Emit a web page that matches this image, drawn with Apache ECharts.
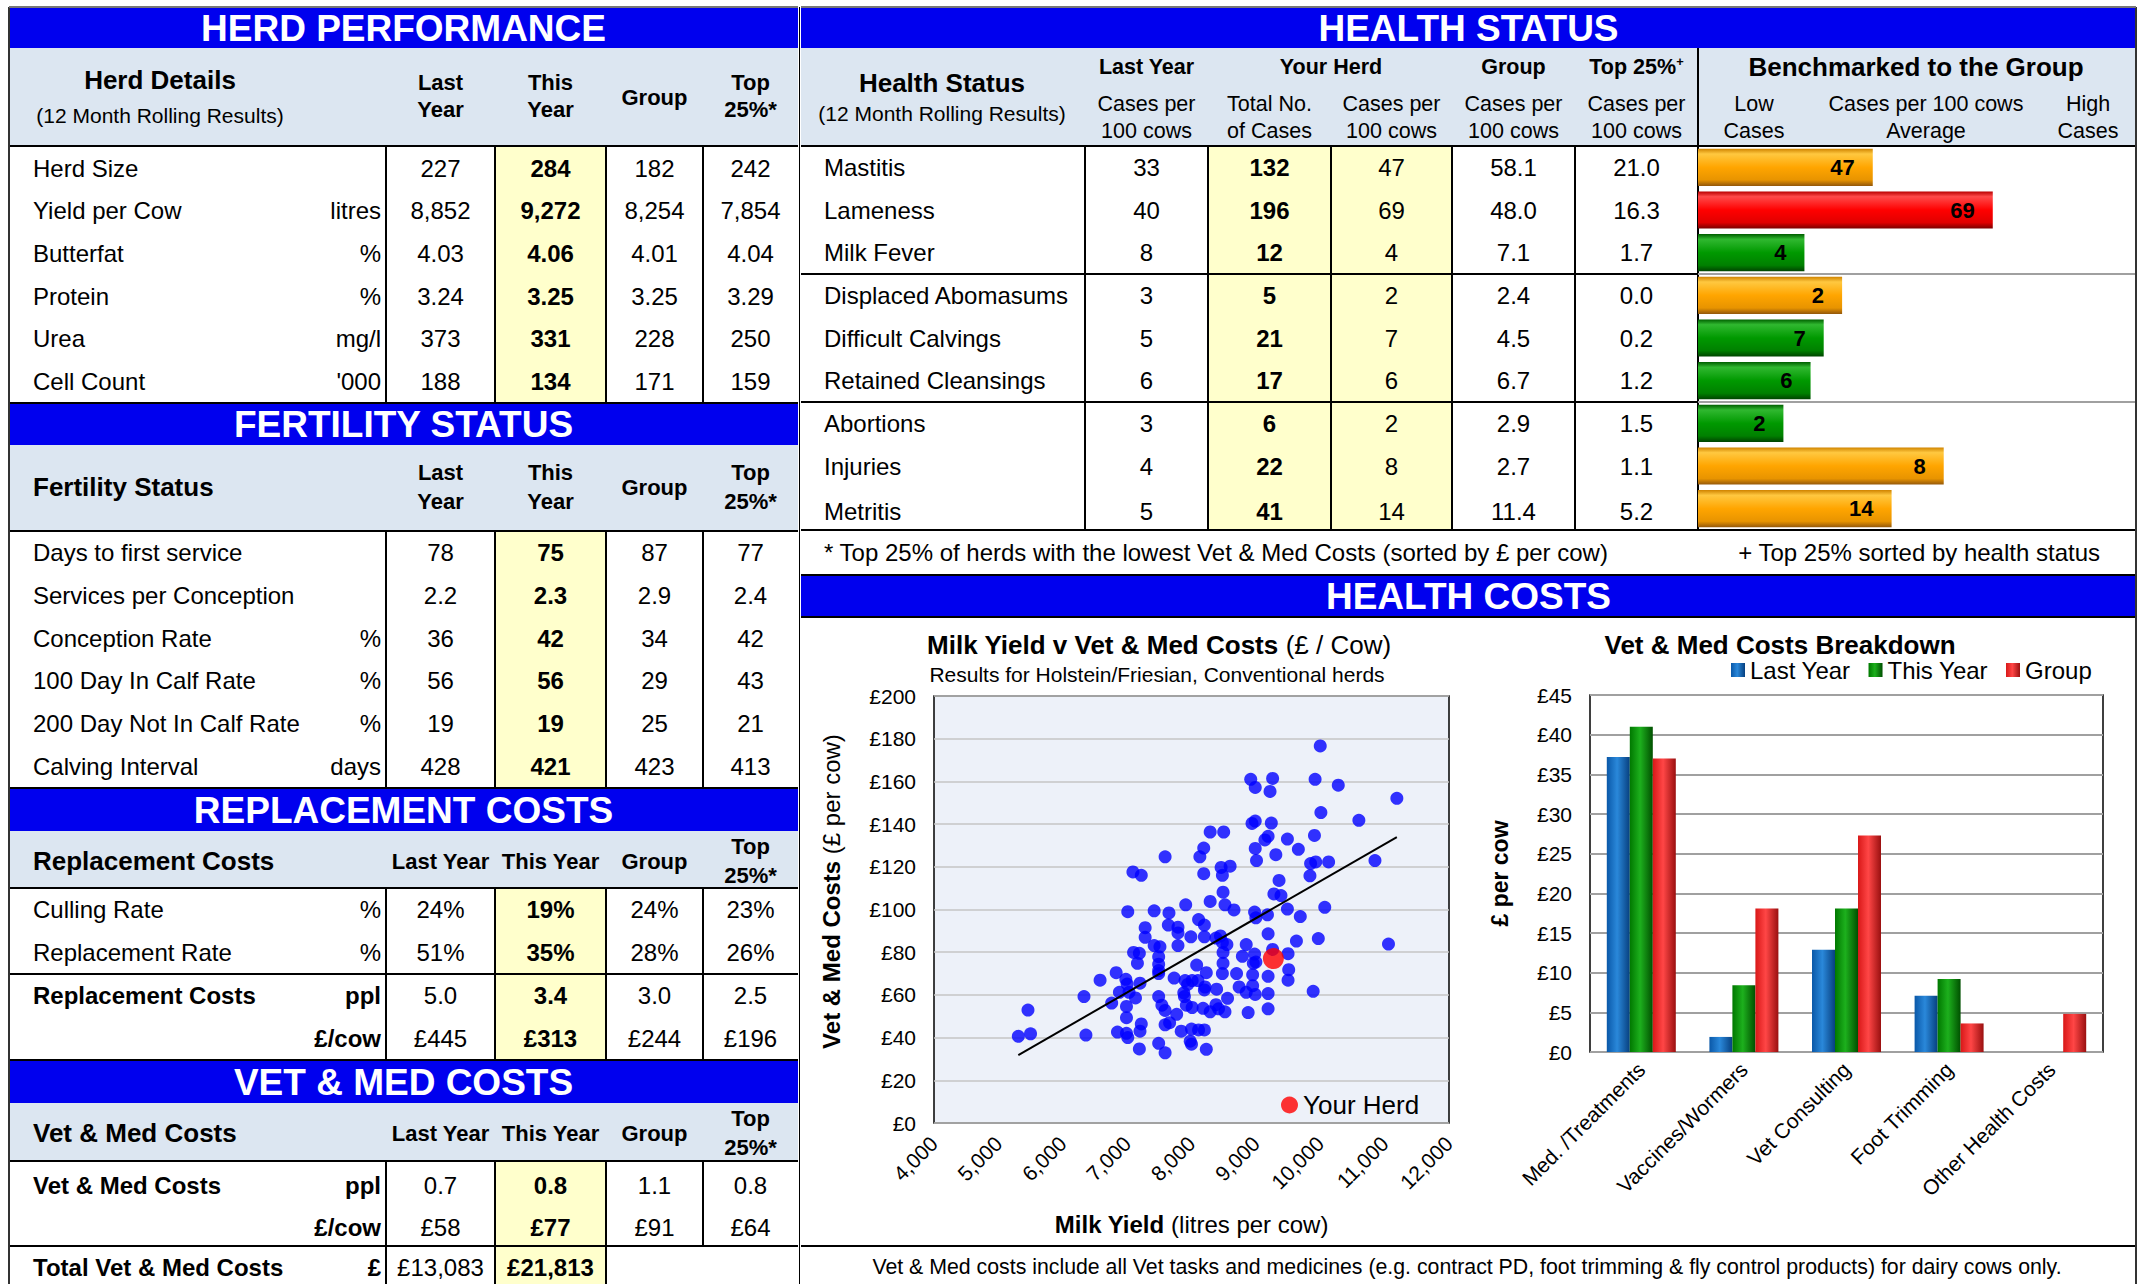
<!DOCTYPE html>
<html>
<head>
<meta charset="utf-8">
<title>Herd Performance Report</title>
<script src="https://cdn.jsdelivr.net/npm/echarts/dist/echarts.min.js"></script>
<style>
html,body{margin:0;padding:0;background:#fff;}
body{width:2140px;height:1284px;overflow:hidden;position:relative;font-family:"Liberation Sans",Arial,Helvetica,sans-serif;color:#000;}
#page{position:absolute;left:0;top:0;width:2140px;height:1284px;z-index:1;}
#chart{position:absolute;left:0;top:0;width:2140px;height:1284px;z-index:2;}
.a{position:absolute;box-sizing:border-box;}
.t{position:absolute;white-space:nowrap;}
.sup{font-size:0.6em;position:relative;top:-0.6em;}
</style>
</head>
<body>
<div id="page"></div>
<div id="chart"></div>
<script>
// ================= DATA =================
const herdLabels = ['Herd Size','Yield per Cow','Butterfat','Protein','Urea','Cell Count'];
const herdUnits = ['','litres','%','%','mg/l',"'000"];
const herdLastYear = ['227','8,852','4.03','3.24','373','188'];
const herdThisYear = ['284','9,272','4.06','3.25','331','134'];
const herdGroup = ['182','8,254','4.01','3.25','228','171'];
const herdTop25 = ['242','7,854','4.04','3.29','250','159'];

const fertLabels = ['Days to first service','Services per Conception','Conception Rate','100 Day In Calf Rate','200 Day Not In Calf Rate','Calving Interval'];
const fertUnits = ['','','%','%','%','days'];
const fertLastYear = ['78','2.2','36','56','19','428'];
const fertThisYear = ['75','2.3','42','56','19','421'];
const fertGroup = ['87','2.9','34','29','25','423'];
const fertTop25 = ['77','2.4','42','43','21','413'];

const replLabels = ['Culling Rate','Replacement Rate','Replacement Costs',''];
const replUnits = ['%','%','ppl','£/cow'];
const replLastYear = ['24%','51%','5.0','£445'];
const replThisYear = ['19%','35%','3.4','£313'];
const replGroup = ['24%','28%','3.0','£244'];
const replTop25 = ['23%','26%','2.5','£196'];

const vetLabels = ['Vet & Med Costs','','Total Vet & Med Costs'];
const vetUnits = ['ppl','£/cow','£'];
const vetLastYear = ['0.7','£58','£13,083'];
const vetThisYear = ['0.8','£77','£21,813'];
const vetGroup = ['1.1','£91',''];
const vetTop25 = ['0.8','£64',''];

const healthLabels = ['Mastitis','Lameness','Milk Fever','Displaced Abomasums','Difficult Calvings','Retained Cleansings','Abortions','Injuries','Metritis'];
const healthLastYear = ['33','40','8','3','5','6','3','4','5'];
const healthTotalCases = ['132','196','12','5','21','17','6','22','41'];
const healthCasesPer100 = [47,69,4,2,7,6,2,8,14];
const healthGroup = ['58.1','48.0','7.1','2.4','4.5','6.7','2.9','2.7','11.4'];
const healthTop25 = ['21.0','16.3','1.7','0.0','0.2','1.2','1.5','1.1','5.2'];
// benchmark bar length (share of the benchmark column, 0-100) and rating colour
const benchScore = [39.9, 67.3, 24.3, 32.9, 28.7, 25.7, 19.5, 56.1, 44.2];
const benchRating = ['mid','high','low','mid','low','low','low','mid','mid'];

// scatter: [milk yield litres/cow, vet & med £/cow]
const scatterHerds = [
[10000,176.6],
[8920,161.0],[8990,157.2],[9260,161.4],[9220,155.3],[9920,161.0],[10280,158.2],[11190,152.1],
[8940,140.3],[8990,141.4],[9240,140.5],[10010,145.4],[10600,141.8],
[9190,134.3],[9140,132.6],[9490,133.0],[9910,134.7],[8990,128.6],[9660,128.2],[9310,125.7],
[8290,136.3],[8500,136.3],[8190,128.8],[8130,124.7],[7590,124.7],
[9010,122.9],[9850,121.5],[9930,122.3],[10130,122.3],[10850,122.9],[9840,115.8],
[7090,117.6],[7220,116.0],[8190,116.8],[8460,119.7],[8600,120.3],[8480,116.0],
[9360,113.6],[8490,108.1],[8290,103.8],[9280,107.3],[9390,106.5],[7910,102.2],[8520,102.2],[8660,99.8],[10070,101.0],
[7010,99.0],[7420,99.4],[7650,98.4],[8980,98.8],[9000,96.1],[9180,97.5],[9490,100.2],[9690,96.7],
[8110,95.3],[8200,92.7],[7280,91.5],[7640,92.7],[7790,91.7],[7790,89.0],[9190,88.6],[7280,87.0],[7990,87.2],[8200,87.2],[8380,86.6],[8450,87.6],[8550,83.6],[9970,86.4],
[7420,83.1],[7510,82.5],[7790,83.1],[8480,84.6],[8850,83.6],[9630,85.2],
[7100,79.9],[7190,79.5],[7490,77.9],[8490,79.9],[8790,78.1],[8980,79.1],[9260,81.3],[9500,79.3],
[7160,74.8],[7490,74.4],[8080,74.0],[8490,74.8],[8960,74.8],[9000,75.4],
[6830,70.4],[7490,71.4],[7490,70.0],[8230,70.4],[8480,70.0],[8700,70.0],[8950,69.4],[9190,68.7],[9510,71.8],
[6580,66.9],[6980,67.3],[7730,67.9],[7900,66.7],[8010,66.7],[8100,66.7],[9500,66.9],
[7000,65.1],[7200,65.5],[7940,64.9],[8210,63.7],[8740,63.7],[8950,64.3],
[6880,61.2],[7030,61.2],[7880,61.0],[8200,62.3],[8390,62.7],[8850,61.2],[8990,60.2],[9190,60.6],[9890,61.7],
[6330,59.2],[7130,58.6],[7490,59.2],[7890,59.2],[8560,58.4],
[6760,56.2],[6990,54.6],[7540,55.2],[7920,55.2],[8010,54.1],[8180,53.7],[8380,55.4],[8420,53.5],
[5460,52.9],[7590,52.7],[7770,50.9],[8290,52.1],[8520,52.1],[8880,51.7],[9190,53.5],
[6990,49.3],[7220,46.4],[7590,46.0],[7660,47.0],
[5310,40.6],[5500,41.8],[6360,41.2],[6850,42.6],[6990,42.0],[7010,40.0],[7200,43.0],[7840,43.0],[8000,44.0],[8110,43.6],[8200,43.6],
[7490,37.3],[7980,38.3],[8000,36.9],[7190,34.7],[8230,34.5],[7590,32.9],
[11060,83.8]
];
const yourHerdPoint = [[9272, 77]];
const trendLine = [[5310, 31.8], [11190, 133.9]];
const yieldTicks = [4000, 12000, 1000];   // min, max, step
const costTicks = [0, 200, 20];

const costCategories = ['Med. /Treatments','Vaccines/Wormers','Vet Consulting','Foot Trimming','Other Health Costs'];
const costLastYear = [37.2, 1.9, 12.9, 7.1, 0];
const costThisYear = [41.0, 8.4, 18.1, 9.2, 0];
const costGroup = [37.0, 18.1, 27.3, 3.6, 4.8];
const breakdownTicks = [0, 45, 5];

// ================= HTML TABLE LAYOUT =================
const page = document.getElementById('page');
const BLUE = '#0000EE', HDR = '#DCE6F1', YEL = '#FFFFCC';
function box(x1,y1,x2,y2,bg){ const d=document.createElement('div'); d.className='a';
  d.style.cssText = 'left:'+x1+'px;top:'+y1+'px;width:'+(x2-x1)+'px;height:'+(y2-y1)+'px;background:'+bg+';';
  page.appendChild(d); return d; }
function hl(x1,x2,y,c,t){ c=c||'#000'; t=t||1.5; return box(x1,y-t/2,x2,y+t/2,c); }
function vl(x,y1,y2,c,t){ c=c||'#000'; t=t||1.5; return box(x-t/2,y1,x+t/2,y2,c); }
function tx(x,y,s,o){ o=o||{}; const size=o.size||24; const h=Math.round(size*1.3); const w=1400;
  const al=o.align||'center'; const left = al==='left'? x : (al==='right'? x-w : x-w/2);
  const d=document.createElement('div'); d.className='t';
  d.style.cssText='left:'+left+'px;top:'+(y-h/2)+'px;width:'+w+'px;height:'+h+'px;line-height:'+h+'px;font-size:'+size+'px;text-align:'+al+';font-weight:'+(o.bold?'bold':'normal')+';color:'+(o.color||'#000')+';';
  if(o.html) d.innerHTML=s; else d.textContent=s; page.appendChild(d); return d; }
function band(x1,x2,y1,y2,label){ box(x1,y1,x2,y2,BLUE); hl(x1,x2,y1,'#000',1.5); tx((x1+x2)/2,(y1+y2)/2+1,label,{size:37,bold:true,color:'#fff'}); }

// ---- left panel ----
const LC=[440.5,550.5,654.5,750.5];
const LABX=33, UNITX=381;
function leftRows(ys,labels,units,cols,boldRows){
  ys.forEach((y,i)=>{
    const b = boldRows ? boldRows[i] : false;
    if(labels[i]) tx(LABX,y,labels[i],{align:'left',bold:b});
    if(units[i]) tx(UNITX,y,units[i],{align:'right',bold:b});
    cols.forEach((col,j)=>{ if(col[i]!=='') tx(LC[j],y,col[i],{bold:j===1}); });
  });
}
function colHeader2(yTop,yBot,yMid){
  tx(LC[0],yTop,'Last',{size:22,bold:true}); tx(LC[0],yBot,'Year',{size:22,bold:true});
  tx(LC[1],yTop,'This',{size:22,bold:true}); tx(LC[1],yBot,'Year',{size:22,bold:true});
  tx(LC[2],yMid,'Group',{size:22,bold:true});
  tx(LC[3],yTop,'Top',{size:22,bold:true}); tx(LC[3],yBot,'25%*',{size:22,bold:true});
}
function colHeader1(y,yTop,yBot){
  tx(LC[0],y,'Last Year',{size:22,bold:true}); tx(LC[1],y,'This Year',{size:22,bold:true});
  tx(LC[2],y,'Group',{size:22,bold:true});
  tx(LC[3],yTop,'Top',{size:22,bold:true}); tx(LC[3],yBot,'25%*',{size:22,bold:true});
}
function vlines(y1,y2,xs){ xs.forEach(x=>vl(x,y1,y2,'#000',1.5)); }

// Herd performance
band(9,798,7,48,'HERD PERFORMANCE');
box(9,48,798,146,HDR);
tx(160,80,'Herd Details',{size:26,bold:true});
tx(160,115,'(12 Month Rolling Results)',{size:21});
colHeader2(82,109,97);
box(495,147,606,403,YEL);
vlines(147,403,[386,495,606,703]);
hl(9,798,146,'#000',2);
leftRows([168,210.7,253.4,296,338.8,381.5],herdLabels,herdUnits,[herdLastYear,herdThisYear,herdGroup,herdTop25]);

// Fertility
band(9,798,403,445,'FERTILITY STATUS');
box(9,445,798,531,HDR);
tx(LABX,487,'Fertility Status',{size:26,bold:true,align:'left'});
colHeader2(472,501,487);
box(495,531,606,788,YEL);
vlines(531,788,[386,495,606,703]);
hl(9,798,531,'#000',2);
leftRows([552.4,595.2,638,680.8,723.6,766.4],fertLabels,fertUnits,[fertLastYear,fertThisYear,fertGroup,fertTop25]);

// Replacement
band(9,798,788,831,'REPLACEMENT COSTS');
box(9,831,798,888,HDR);
tx(LABX,861,'Replacement Costs',{size:26,bold:true,align:'left'});
colHeader1(861,846,875);
box(495,888,606,1060,YEL);
vlines(888,1060,[386,495,606,703]);
hl(9,798,888,'#000',2);
hl(9,798,974,'#000',2);
leftRows([909.5,952.5,995.5,1038.5],replLabels,replUnits,[replLastYear,replThisYear,replGroup,replTop25],[false,false,true,true]);

// Vet & Med
band(9,798,1060,1103,'VET & MED COSTS');
box(9,1103,798,1161,HDR);
tx(LABX,1133,'Vet & Med Costs',{size:26,bold:true,align:'left'});
colHeader1(1133,1118,1147);
box(495,1161,606,1284,YEL);
vlines(1161,1284,[386,495,606]);
vl(703,1161,1246,'#000',1.5);
hl(9,798,1161,'#000',2);
hl(9,798,1246,'#000',2);
leftRows([1185,1227,1267],vetLabels,vetUnits,[vetLastYear,vetThisYear,vetGroup,vetTop25],[true,true,true]);

vl(9,7,1284,'#333',1.5);
vl(799.5,7,1284,'#000',1.5);
hl(9,798,7,'#777',1.5);

// ---- right panel: health status ----
band(801,2136,7,48,'HEALTH STATUS');
box(801,48,2136,146,HDR);
tx(942,83,'Health Status',{size:26,bold:true});
tx(942,113,'(12 Month Rolling Results)',{size:21});
const HC=[1146.5,1269.5,1391.5,1513.5,1636.5];
tx(HC[0],67,'Last Year',{size:21.5,bold:true});
tx(HC[0],104,'Cases per',{size:21.5}); tx(HC[0],131,'100 cows',{size:21.5});
tx(1331,67,'Your Herd',{size:21.5,bold:true});
tx(HC[1],104,'Total No.',{size:21.5}); tx(HC[1],131,'of Cases',{size:21.5});
tx(HC[2],104,'Cases per',{size:21.5}); tx(HC[2],131,'100 cows',{size:21.5});
tx(HC[3],67,'Group',{size:21.5,bold:true});
tx(HC[3],104,'Cases per',{size:21.5}); tx(HC[3],131,'100 cows',{size:21.5});
tx(HC[4],67,'Top 25%<span class="sup">+</span>',{size:21.5,bold:true,html:true});
tx(HC[4],104,'Cases per',{size:21.5}); tx(HC[4],131,'100 cows',{size:21.5});
tx(1916,67,'Benchmarked to the Group',{size:26,bold:true});
tx(1754,104,'Low',{size:21.5}); tx(1754,131,'Cases',{size:21.5});
tx(1926,104,'Cases per 100 cows',{size:21.5}); tx(1926,131,'Average',{size:21.5});
tx(2088,104,'High',{size:21.5}); tx(2088,131,'Cases',{size:21.5});

box(1208,147,1452,530,YEL);
vlines(147,530,[1085,1208,1331,1452,1575]);
vl(1698,48,530,'#000',1.5);
hl(801,2136,146,'#000',2);
hl(801,1698,274,'#000',2); hl(801,1698,402,'#000',2);
hl(1698,2136,274,'#A0A0A0',2); hl(1698,2136,402,'#A0A0A0',2);
hl(801,2136,530,'#000',2);
const HY = healthLabels.map((_,i)=>146+42.67*(i+0.5)+(i===8?3:0));
healthLabels.forEach((lab,i)=>{
  const y=HY[i];
  tx(824,y,lab,{align:'left'});
  tx(HC[0],y,healthLastYear[i]);
  tx(HC[1],y,healthTotalCases[i],{bold:true});
  tx(HC[2],y,String(healthCasesPer100[i]));
  tx(HC[3],y,healthGroup[i]);
  tx(HC[4],y,healthTop25[i]);
});
tx(824,552,'* Top 25% of herds with the lowest Vet & Med Costs (sorted by £ per cow)',{align:'left',size:24});
tx(2100,552,'+ Top 25% sorted by health status',{align:'right',size:24});
band(801,2136,575,617,'HEALTH COSTS');
hl(801,2136,617,'#000',1.5);
hl(801,2136,1246,'#000',2);
tx(1467,1267,'Vet & Med costs include all Vet tasks and medicines (e.g. contract PD, foot trimming & fly control products) for dairy cows only.',{size:21.3});
vl(2136,7,1284,'#333',1.5);
hl(801,2136,7,'#777',1.5);

// ================= ECHARTS =================
const FONT = '"Liberation Sans", Arial, Helvetica, sans-serif';
function vgrad(c){ return new echarts.graphic.LinearGradient(0,0,0,1,[
  {offset:0,color:c[0]},{offset:0.14,color:c[1]},{offset:0.5,color:c[2]},{offset:0.84,color:c[3]},{offset:1,color:c[4]}]); }
function hgrad(c){ return new echarts.graphic.LinearGradient(0,0,1,0,[
  {offset:0,color:c[0]},{offset:0.45,color:c[1]},{offset:1,color:c[2]}]); }
const ratingFill = {
  high: vgrad(['#B80000','#FF4A4A','#FF0000','#E00000','#7A0000']),
  mid:  vgrad(['#D08400','#FFC840','#FFA500','#E89400','#94580A']),
  low:  vgrad(['#006000','#30B830','#009900','#008000','#004400'])
};
const blueFill = hgrad(['#0A58A8','#2A88DA','#074080']);
const greenFill = hgrad(['#007800','#1DB01D','#005000']);
const redFill = hgrad(['#D81818','#FF4646','#9A1010']);

const chart = echarts.init(document.getElementById('chart'), null, {renderer:'svg', width:2140, height:1284});
const option = {
  animation:false,
  backgroundColor:'transparent',
  textStyle:{fontFamily:FONT, color:'#000'},
  graphic:[
    {type:'text', x:1159, y:645, style:{text:'{b|Milk Yield v Vet & Med Costs} {r|(£ / Cow)}', align:'center', verticalAlign:'middle', fontSize:26, fontFamily:FONT, fill:'#000',
      rich:{b:{fontSize:26,fontWeight:'bold',fontFamily:FONT,fill:'#000'}, r:{fontSize:26,fontFamily:FONT,fill:'#000'}}}},
    {type:'text', x:1157, y:674, style:{text:'Results for Holstein/Friesian, Conventional herds', align:'center', verticalAlign:'middle', fontSize:21, fontFamily:FONT, fill:'#000'}},
    {type:'text', x:1780, y:645, style:{text:'Vet & Med Costs Breakdown', align:'center', verticalAlign:'middle', fontSize:26, fontWeight:'bold', fontFamily:FONT, fill:'#000'}}
  ],
  legend:[
    {data:['Last Year','This Year','Group'], left:1731, top:658, padding:0, itemWidth:14, itemHeight:14, itemGap:18, icon:'rect',
      textStyle:{fontSize:24, color:'#000', fontFamily:FONT}},
    {data:['Your Herd'], left:1281, top:1092, padding:0, itemWidth:17, itemHeight:17, icon:'circle',
      textStyle:{fontSize:26, color:'#000', fontFamily:FONT}}
  ],
  grid:[
    {left:1698, top:146, width:438, height:384, containLabel:false, outerBoundsMode:'none'},
    {left:934, top:696, width:515, height:427, show:true, backgroundColor:'#EDF1F9', borderColor:'#000', borderWidth:1.5, containLabel:false, outerBoundsMode:'none'},
    {left:1590, top:695, width:513, height:357, show:true, backgroundColor:'#FFFFFF', borderColor:'#000', borderWidth:1.5, containLabel:false, outerBoundsMode:'none'}
  ],
  xAxis:[
    {gridIndex:0, type:'value', min:0, max:100, show:false},
    {gridIndex:1, type:'value', min:yieldTicks[0], max:yieldTicks[1], interval:yieldTicks[2],
      axisLine:{show:false}, axisTick:{show:false}, splitLine:{show:false},
      axisLabel:{rotate:45, fontSize:21, color:'#000', margin:17, fontFamily:FONT, formatter:v=>v.toLocaleString('en-US')},
      name:'{b|Milk Yield} {r|(litres per cow)}', nameLocation:'middle', nameGap:89,
      nameTextStyle:{fontSize:24, rich:{b:{fontSize:24,fontWeight:'bold',color:'#000',fontFamily:FONT}, r:{fontSize:24,color:'#000',fontFamily:FONT}}}},
    {gridIndex:2, type:'category', data:costCategories,
      axisLine:{show:false}, axisTick:{show:false}, splitLine:{show:false},
      axisLabel:{rotate:45, fontSize:21, color:'#000', margin:14, interval:0, fontFamily:FONT}}
  ],
  yAxis:[
    {gridIndex:0, type:'category', data:healthLabels, inverse:true, show:false},
    {gridIndex:1, type:'value', min:costTicks[0], max:costTicks[1], interval:costTicks[2],
      axisLine:{show:false}, axisTick:{show:false},
      splitLine:{show:true, lineStyle:{color:'#C4C4C4', width:1.5}},
      axisLabel:{fontSize:21, color:'#000', margin:18, fontFamily:FONT, formatter:'£{value}'},
      name:'{b|Vet & Med Costs} {r|(£ per cow)}', nameLocation:'middle', nameRotate:90, nameGap:91,
      nameTextStyle:{fontSize:24, padding:[0,0,0,36], rich:{b:{fontSize:24,fontWeight:'bold',color:'#000',fontFamily:FONT}, r:{fontSize:24,color:'#000',fontFamily:FONT}}}},
    {gridIndex:2, type:'value', min:breakdownTicks[0], max:breakdownTicks[1], interval:breakdownTicks[2],
      axisLine:{show:false}, axisTick:{show:false},
      splitLine:{show:true, lineStyle:{color:'#A0A0A0', width:2}},
      axisLabel:{fontSize:21, color:'#000', margin:18, fontFamily:FONT, formatter:'£{value}'},
      name:'£ per cow', nameLocation:'middle', nameRotate:90, nameGap:79,
      nameTextStyle:{fontSize:23, fontWeight:'bold', color:'#000', fontFamily:FONT}}
  ],
  series:[
    {type:'bar', name:'Benchmark', xAxisIndex:0, yAxisIndex:0, barCategoryGap:'13%', silent:true,
      data: benchScore.map((v,i)=>({value:v, itemStyle:{color:ratingFill[benchRating[i]]}})),
      label:{show:true, position:'insideRight', distance:18, fontSize:22, fontWeight:'bold', color:'#000', fontFamily:FONT,
        formatter:p=>String(healthCasesPer100[p.dataIndex])}},
    {type:'scatter', name:'Herds', xAxisIndex:1, yAxisIndex:1, data:scatterHerds, symbolSize:13, itemStyle:{color:'#0000FF'}, silent:true},
    {type:'line', name:'Trend', xAxisIndex:1, yAxisIndex:1, data:trendLine, symbol:'none', lineStyle:{color:'#000', width:2}, silent:true, z:3},
    {type:'scatter', name:'Your Herd', xAxisIndex:1, yAxisIndex:1, data:yourHerdPoint, symbolSize:21, itemStyle:{color:'#FF0000'}, z:5, silent:true},
    {type:'bar', name:'Last Year', xAxisIndex:2, yAxisIndex:2, data:costLastYear, barWidth:23, barGap:'0%', itemStyle:{color:blueFill}},
    {type:'bar', name:'This Year', xAxisIndex:2, yAxisIndex:2, data:costThisYear, barWidth:23, barGap:'0%', itemStyle:{color:greenFill}},
    {type:'bar', name:'Group', xAxisIndex:2, yAxisIndex:2, data:costGroup, barWidth:23, barGap:'0%', itemStyle:{color:redFill}}
  ]
};
chart.setOption(option);
</script>
</body>
</html>
